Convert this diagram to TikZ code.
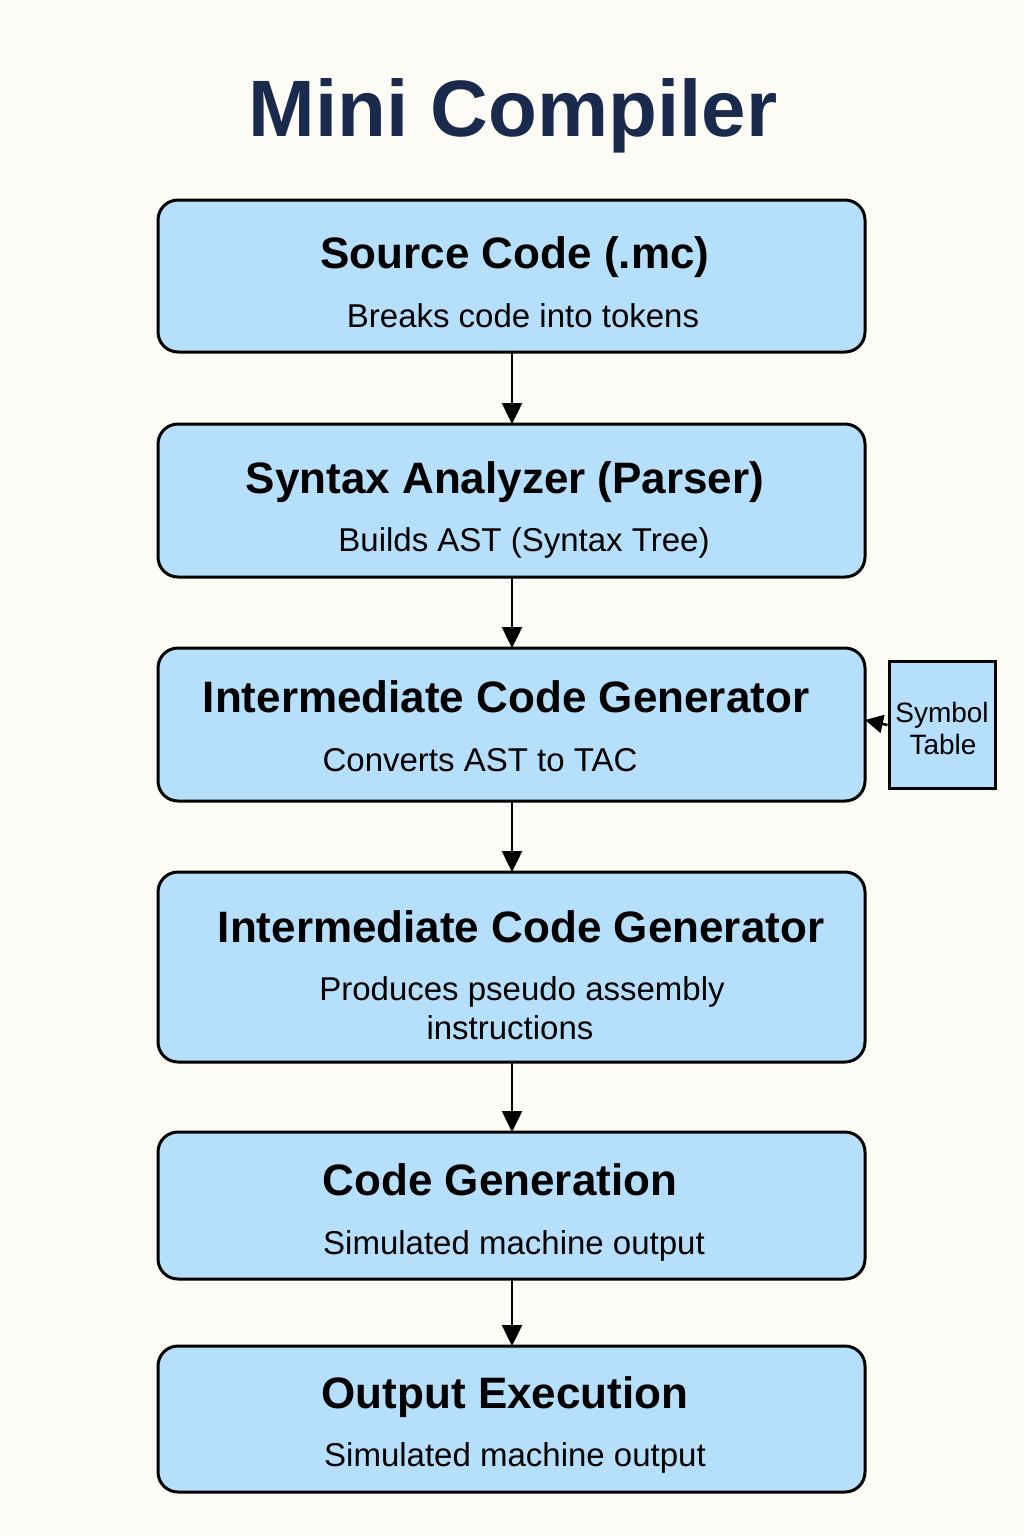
\documentclass[tikz,border=0pt]{standalone}
\usepackage{fontspec}
\setmainfont{Liberation Sans}
\usetikzlibrary{arrows.meta}
\definecolor{bg}{HTML}{FDFBF5}
\definecolor{boxfill}{HTML}{B5DFFA}
\definecolor{navy}{HTML}{1A2A4C}
\tikzset{
  stagebox/.style={draw=black, fill=boxfill, line width=3pt, rounded corners=20pt, inner sep=0pt},
  symbox/.style={draw=black, fill=boxfill, line width=3pt, inner sep=0pt},
  ttl/.style={anchor=base, inner sep=0pt, font=\fontsize{44}{50}\selectfont\bfseries},
  sub/.style={anchor=base, inner sep=0pt, font=\fontsize{33}{38}\selectfont},
  symtxt/.style={anchor=base, inner sep=0pt, font=\fontsize{28}{32}\selectfont},
  flow/.style={line width=2.5pt, -{Triangle[length=21pt,width=20pt]}},
}
\begin{document}
\begin{tikzpicture}[x=1pt,y=-1pt]
\useasboundingbox[fill=bg] (0,0) rectangle (1024,1536);
% title
\node[anchor=base, inner sep=0pt, text=navy, font=\fontsize{80}{90}\selectfont\bfseries] (title) at (513,136) {Mini Compiler};
% boxes
\path[stagebox] (158,200) rectangle (865,352);
\coordinate (b1t) at (512,200); \coordinate (b1b) at (512,352);
\path[stagebox] (158,424) rectangle (865,577);
\coordinate (b2t) at (512,424); \coordinate (b2b) at (512,577);
\path[stagebox] (158,648) rectangle (865,801);
\coordinate (b3t) at (512,648); \coordinate (b3b) at (512,801); \coordinate (b3r) at (865,720);
\path[stagebox] (158,872) rectangle (865,1062);
\coordinate (b4t) at (512,872); \coordinate (b4b) at (512,1062);
\path[stagebox] (158,1132) rectangle (865,1279);
\coordinate (b5t) at (512,1132); \coordinate (b5b) at (512,1279);
\path[stagebox] (158,1346) rectangle (865,1492);
\coordinate (b6t) at (512,1346);
% symbol table
\node[symbox, minimum width=106pt, minimum height=127pt] (sym) at (942,725) {};
\node[symtxt] (symA) at (942,722) {Symbol};
\node[symtxt] (symB) at (943,754) {Table};
% texts
\node[ttl] (t1) at (515,268) {Source Code (.mc)};
\node[sub] (s1) at (523,327) {Breaks code into tokens};
\node[ttl] (t2) at (505,493) {Syntax Analyzer (Parser)};
\node[sub] (s2) at (524,551) {Builds AST (Syntax Tree)};
\node[ttl] (t3) at (506,712) {Intermediate Code Generator};
\node[sub] (s3) at (480,771) {Converts AST to TAC};
\node[ttl] (t4) at (521,942) {Intermediate Code Generator};
\node[sub] (s4a) at (522,1000) {Produces pseudo assembly};
\node[sub] (s4b) at (510,1039) {instructions};
\node[ttl] (t5) at (500,1195) {Code Generation};
\node[sub] (s5) at (514,1254) {Simulated machine output};
\node[ttl] (t6) at (505,1408) {Output Execution};
\node[sub] (s6) at (515,1466) {Simulated machine output};
% arrows
\draw[flow] (b1b) -- (b2t);
\draw[flow] (b2b) -- (b3t);
\draw[flow] (b3b) -- (b4t);
\draw[flow] (b4b) -- (b5t);
\draw[flow] (b5b) -- (b6t);
\draw[line width=2.5pt, -{Triangle[length=18pt,width=18pt]}] (sym.west) -- (b3r);
\end{tikzpicture}
\end{document}
